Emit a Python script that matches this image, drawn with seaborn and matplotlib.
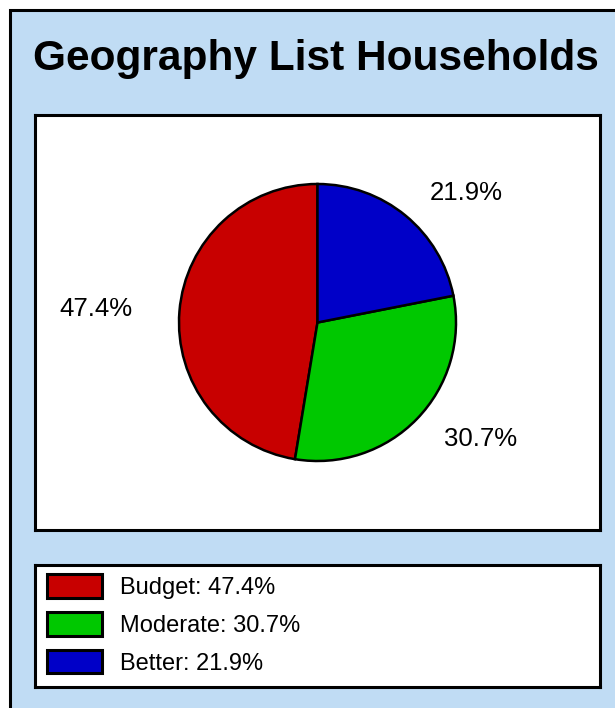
import numpy as np
import matplotlib
matplotlib.use("Agg")
import matplotlib.pyplot as plt
import matplotlib.patches as mpatches
import matplotlib.transforms as mtransforms
import seaborn as sns

# chart data
categories = ["Budget", "Moderate", "Better"]
shares = [47.4, 30.7, 21.9]
slice_colors = ["#C80000", "#00C800", "#0000C8"]
title = "Geography List Households"

sns.set_theme(style="white")
plt.rcParams["font.family"] = ["Liberation Sans", "DejaVu Sans"]
plt.rcParams["text.color"] = "black"

W, H = 615, 708
fig = plt.figure(figsize=(W / 100, H / 100), dpi=100)
fig.patch.set_facecolor("white")

# outer blue card with black border (right/bottom edges run off the image)
card = mpatches.Rectangle((9.5 / W, -0.2), 1.5, 1.2 - 9.5 / H,
                          transform=fig.transFigure, facecolor="#C0DCF4",
                          edgecolor="black", linewidth=2.2, zorder=-5)
fig.patches.append(card)

fig.text(316 / W, 1 - 59 / H, title, ha="center", va="center",
         fontsize=30.5, fontweight="bold", color="black")

# pie panel
px0, py0, px1, py1 = 35, 115, 600, 530
ax = fig.add_axes([px0 / W, 1 - py1 / H, (px1 - px0) / W, (py1 - py0) / H])
radius_px = 138.5
wedges, texts = ax.pie(shares, labels=[f"{v}%" for v in shares],
                       colors=slice_colors, startangle=90, counterclock=True,
                       labeldistance=1.21,
                       wedgeprops=dict(edgecolor="black", linewidth=1.8),
                       textprops=dict(fontsize=18.5, color="black"))
# push labels a little further out horizontally
for t in texts:
    dx = 6 if t.get_ha() == "left" else -18
    t.set_transform(mtransforms.offset_copy(t.get_transform(), fig=fig,
                                            x=dx, y=0, units="dots"))
ax.set_aspect("auto")
hx = (px1 - px0) / 2 / radius_px
hy = (py1 - py0) / 2 / radius_px
ax.set_xlim(-hx, hx)
ax.set_ylim(-hy, hy)
ax.set_facecolor("white")
ax.set_frame_on(True)
for s in ax.spines.values():
    s.set_visible(True)
    s.set_color("black")
    s.set_linewidth(2.2)
ax.set_xticks([])
ax.set_yticks([])

# legend panel
lx0, ly0, lx1, ly1 = 35, 565, 600, 687
lax = fig.add_axes([lx0 / W, 1 - ly1 / H, (lx1 - lx0) / W, (ly1 - ly0) / H])
lax.set_facecolor("white")
for s in lax.spines.values():
    s.set_visible(True)
    s.set_color("black")
    s.set_linewidth(2.2)
lax.set_xticks([])
lax.set_yticks([])
handles = [mpatches.Patch(facecolor=c, edgecolor="black", linewidth=2.2)
           for c in slice_colors]
labels = [f"{c}: {v}%" for c, v in zip(categories, shares)]
lax.legend(handles, labels, loc="upper left", bbox_to_anchor=(0.005, 1),
           frameon=False, fontsize=17, handlelength=2.3, handleheight=1.15,
           handletextpad=0.8, labelspacing=0.55, borderpad=0.15,
           borderaxespad=0.25, labelcolor="black")

fig.savefig("out.png", dpi=100, facecolor=fig.get_facecolor())
